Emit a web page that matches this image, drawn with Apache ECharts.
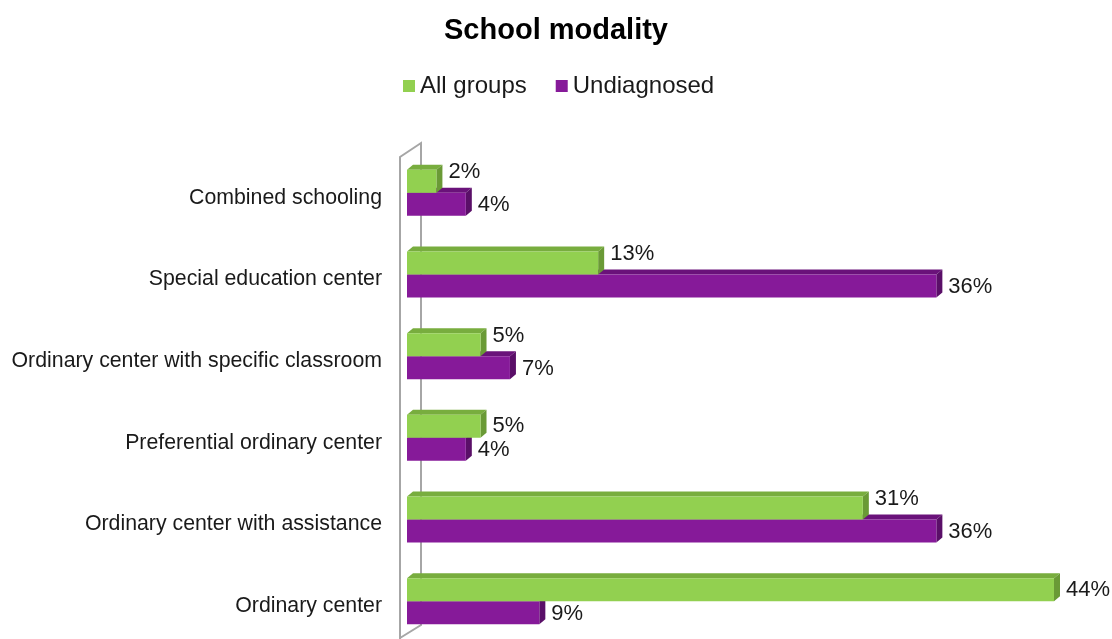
<!DOCTYPE html>
<html>
<head>
<meta charset="utf-8">
<script src="https://cdn.jsdelivr.net/npm/echarts@6/dist/echarts.min.js"></script>
<style>html,body{margin:0;padding:0;background:#fff}#c{width:1112px;height:639px}</style>
</head>
<body>
<div id="c"></div>
<script>
const categories = ['Combined schooling','Special education center','Ordinary center with specific classroom','Preferential ordinary center','Ordinary center with assistance','Ordinary center'];
const allGroups = [2, 13, 5, 5, 31, 44];
const undiagnosed = [4, 36, 7, 4, 36, 9];
const seriesNames = ['All groups', 'Undiagnosed'];

const GRID = {left: 407, right: 58, top: 152, height: 490};
const DX = 6, DY = 5;
const COLORS = {
  green: {front: '#92D050', top: '#78AD3E', side: '#6A9A36'},
  purple: {front: '#861A99', top: '#6A127A', side: '#5A0F68'}
};
const FONT = '"Liberation Sans", Arial, sans-serif';

function makeRender(which, col) {
  return function (params, api) {
    const v = api.value(0), ci = api.value(1);
    const p0 = api.coord([0, ci]);
    const p1 = api.coord([v, ci]);
    const band = api.size([0, 1])[1];
    const h = band * 0.282;
    const y0 = which === 0 ? p0[1] - h : p0[1];
    const y1 = y0 + h;
    const x0 = p0[0], x1 = p1[0];
    let labelDy = which === 0 ? 0 : 1;
    if (which === 0 && undiagnosed[ci] > allGroups[ci]) labelDy = -9;
    return {
      type: 'group',
      children: [
        {type: 'polygon', shape: {points: [[x0, y0], [x1, y0], [x1 + DX, y0 - DY], [x0 + DX, y0 - DY]]}, style: {fill: col.top}},
        {type: 'polygon', shape: {points: [[x1, y0], [x1 + DX, y0 - DY], [x1 + DX, y1 - DY], [x1, y1]]}, style: {fill: col.side}},
        {type: 'rect', shape: {x: x0, y: y0, width: x1 - x0, height: h}, style: {fill: col.front}},
        {type: 'text', x: x1 + DX + 6, y: (y0 + y1) / 2 + labelDy,
          style: {text: v + '%', fill: '#1a1a1a', font: '22px ' + FONT, textAlign: 'left', textVerticalAlign: 'middle'}}
      ]
    };
  };
}

const chart = echarts.init(document.getElementById('c'), null, {renderer: 'canvas'});
const gBottom = GRID.top + GRID.height;
const wallL = GRID.left - 7, wallR = GRID.left + 14;
chart.setOption({
  animation: false,
  backgroundColor: '#fff',
  title: {text: 'School modality', left: 'center', top: 11,
    textStyle: {fontFamily: FONT, fontSize: 29, fontWeight: 'bold', color: '#000'}},
  legend: {
    data: seriesNames, top: 69, left: 398, itemWidth: 12, itemHeight: 12, itemGap: 29,
    icon: 'rect',
    textStyle: {fontFamily: FONT, fontSize: 24, color: '#1a1a1a'}
  },
  grid: {left: GRID.left, right: GRID.right, top: GRID.top, height: GRID.height, outerBoundsMode: 'none'},
  xAxis: {type: 'value', min: 0, max: 44, show: false},
  yAxis: {type: 'category', data: categories, inverse: true,
    axisLine: {show: false}, axisTick: {show: false}, splitLine: {show: false},
    axisLabel: {fontFamily: FONT, fontSize: 21.3, color: '#1a1a1a', margin: 25, verticalAlign: 'top', lineHeight: 10}},
  graphic: [
    {type: 'polyline', silent: true, z: 0,
      shape: {points: [[wallL, gBottom + 5], [wallL, GRID.top + 5], [wallR, GRID.top - 9], [wallR, gBottom - 17], [wallL, gBottom - 4]]},
      style: {stroke: '#A6A6A6', lineWidth: 2, fill: null}}
  ],
  series: [
    {name: seriesNames[1], type: 'custom', z: 2, itemStyle: {color: COLORS.purple.front},
      renderItem: makeRender(1, COLORS.purple),
      data: undiagnosed.map((v, i) => [v, i])},
    {name: seriesNames[0], type: 'custom', z: 3, itemStyle: {color: COLORS.green.front},
      renderItem: makeRender(0, COLORS.green),
      data: allGroups.map((v, i) => [v, i])}
  ]
});
</script>
</body>
</html>
